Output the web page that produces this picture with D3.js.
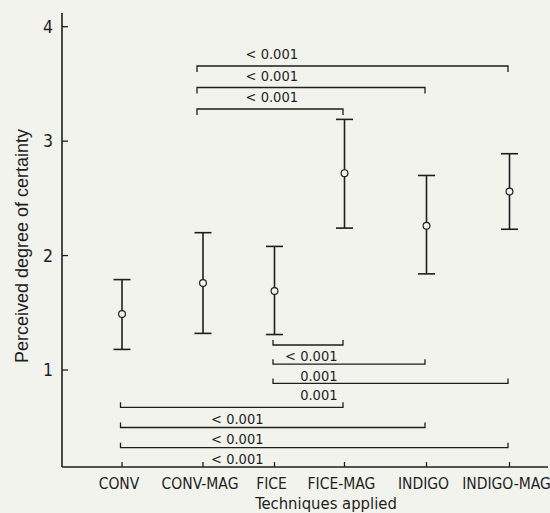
<!DOCTYPE html>
<html>
<head>
<meta charset="utf-8">
<script src="https://cdn.jsdelivr.net/npm/d3@7"></script>
<style>
  html, body { margin: 0; padding: 0; background: #f3f3ee; }
  svg { display: block; }
  .cond { font-family: "DejaVu Sans Condensed", "DejaVu Sans", sans-serif; }
</style>
</head>
<body>
<svg id="chart" width="550" height="513"></svg>
<script>
// ---- data ----
const categories = ["CONV", "CONV-MAG", "FICE", "FICE-MAG", "INDIGO", "INDIGO-MAG"];
const means = [1.49, 1.76, 1.69, 2.72, 2.26, 2.56];
const upper = [1.79, 2.20, 2.08, 3.19, 2.70, 2.89];
const lower = [1.18, 1.32, 1.31, 2.24, 1.84, 2.23];
const yTicks = [1, 2, 3, 4];
const yTitle = "Perceived degree of certainty";
const xTitle = "Techniques applied";

// comparison brackets: top group (opening downward) and bottom group (opening upward)
const topFrom = ["CONV-MAG", "CONV-MAG", "CONV-MAG"];
const topTo = ["INDIGO-MAG", "INDIGO", "FICE-MAG"];
const topP = ["< 0.001", "< 0.001", "< 0.001"];
const botFrom = ["FICE", "FICE", "FICE", "CONV", "CONV", "CONV"];
const botTo = ["FICE-MAG", "INDIGO", "INDIGO-MAG", "FICE-MAG", "INDIGO", "INDIGO-MAG"];
const botP = ["< 0.001", "0.001", "0.001", "< 0.001", "< 0.001", "< 0.001"];

// ---- layout ----
const svg = d3.select("#chart");
const ink = "#1e1e1e";
const axisX = 62, axisTop = 13, axisBottom = 467, axisRight = 548;

const x = d3.scaleOrdinal().domain(categories).range([122, 203, 274.5, 344.5, 426.5, 509.5]);
const y = d3.scaleLinear().domain([1, 4]).range([370, 26.7]);

// axes lines
svg.append("line").attr("x1", axisX).attr("x2", axisX).attr("y1", axisTop).attr("y2", axisBottom)
  .attr("stroke", ink).attr("stroke-width", 1.6);
svg.append("line").attr("x1", axisX).attr("x2", axisRight).attr("y1", axisBottom).attr("y2", axisBottom)
  .attr("stroke", ink).attr("stroke-width", 1.6);

// y ticks (inward)
const yt = svg.append("g");
yt.selectAll("line").data(yTicks).join("line")
  .attr("x1", axisX).attr("x2", axisX + 6)
  .attr("y1", d => y(d)).attr("y2", d => y(d))
  .attr("stroke", ink).attr("stroke-width", 1.3);
yt.selectAll("text").data(yTicks).join("text")
  .attr("class", "cond")
  .attr("x", 53).attr("y", d => y(d)).attr("dy", "0.36em")
  .attr("text-anchor", "end").attr("font-size", 17.5).attr("fill", ink)
  .text(d => d);

// x ticks (inward)
const xt = svg.append("g");
xt.selectAll("line").data(categories).join("line")
  .attr("x1", d => x(d)).attr("x2", d => x(d))
  .attr("y1", axisBottom).attr("y2", axisBottom - 5)
  .attr("stroke", ink).attr("stroke-width", 1.3);
xt.selectAll("text").data(categories).join("text")
  .attr("class", "cond")
  .attr("x", d => x(d) - 3).attr("y", 488.5)
  .attr("text-anchor", "middle").attr("font-size", 15.5).attr("fill", ink)
  .text(d => d);

// axis titles
svg.append("text").attr("class", "cond")
  .attr("x", 326).attr("y", 508.5).attr("text-anchor", "middle")
  .attr("font-size", 16.5).attr("fill", ink).text(xTitle);
svg.append("text")
  .attr("transform", "translate(28.3,246) rotate(-90)")
  .attr("text-anchor", "middle")
  .attr("font-family", "'Liberation Sans', Arial, sans-serif")
  .attr("font-size", 18).attr("fill", ink).text(yTitle);

// error bars
const capW = 8.5;
const eb = svg.append("g").attr("stroke", ink).attr("stroke-width", 1.6).attr("fill", "none");
const idx = d3.range(categories.length);
eb.selectAll(".stem").data(idx).join("line")
  .attr("x1", i => x(categories[i])).attr("x2", i => x(categories[i]))
  .attr("y1", i => y(upper[i])).attr("y2", i => y(lower[i]));
eb.selectAll(".capT").data(idx).join("line")
  .attr("x1", i => x(categories[i]) - capW).attr("x2", i => x(categories[i]) + capW)
  .attr("y1", i => y(upper[i])).attr("y2", i => y(upper[i]));
eb.selectAll(".capB").data(idx).join("line")
  .attr("x1", i => x(categories[i]) - capW).attr("x2", i => x(categories[i]) + capW)
  .attr("y1", i => y(lower[i])).attr("y2", i => y(lower[i]));
eb.selectAll("circle").data(idx).join("circle")
  .attr("cx", i => x(categories[i])).attr("cy", i => y(means[i]))
  .attr("r", 3.4).attr("stroke-width", 1.2).attr("fill", "#f3f3ee");

// brackets
function bracket(g, x1, x2, yy, dir) {
  g.append("path")
    .attr("d", `M${x1},${yy + dir}V${yy}H${x2}V${yy + dir}`)
    .attr("fill", "none").attr("stroke", ink).attr("stroke-width", 1.3);
}
const bg = svg.append("g");
// top group: lines stacked downward from the top
topFrom.forEach((f, i) => {
  const yy = 66 + i * 21.5;
  bracket(bg, x(f) - 6, x(topTo[i]) - 1.5, yy, 6);
  bg.append("text").attr("class", "cond")
    .attr("x", 298).attr("y", yy - 7).attr("text-anchor", "end")
    .attr("font-size", 14.5).attr("fill", ink).text(topP[i]);
});
// bottom group
botFrom.forEach((f, i) => {
  const firstGroup = f === "FICE";
  const k = firstGroup ? i : i - 3;
  const yy = firstGroup ? 345 + k * 19.2 : 407.3 + k * 20.2;
  bracket(bg, x(f) - 1.5, x(botTo[i]) - 1.5, yy, -5);
  bg.append("text").attr("class", "cond")
    .attr("x", firstGroup ? 337.5 : 263.5).attr("y", yy + 16.3).attr("text-anchor", "end")
    .attr("font-size", 14.5).attr("fill", ink).text(botP[i]);
});
</script>
</body>
</html>
